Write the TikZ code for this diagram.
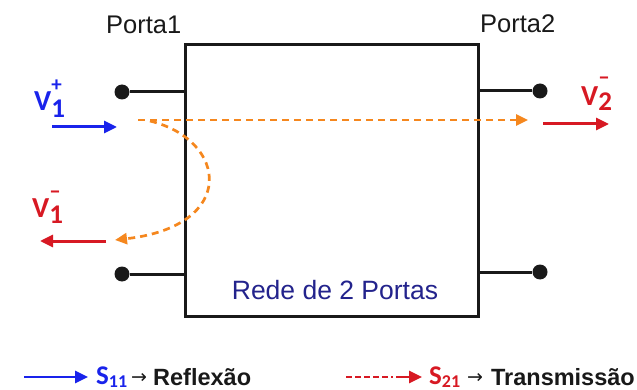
\documentclass[tikz,border=0pt]{standalone}
\usepackage{fontspec}
\setmainfont{Liberation Sans}
\newfontfamily\calfont{Carlito}
\newfontfamily\symfont{DejaVu Sans}
\usetikzlibrary{arrows.meta}
\definecolor{vblue}{RGB}{25,35,235}
\definecolor{vred}{RGB}{215,25,35}
\definecolor{vorange}{RGB}{245,135,30}
\definecolor{vnavy}{RGB}{35,35,140}
\definecolor{vblack}{RGB}{25,25,25}
\tikzset{
  wire/.style={line width=3pt, vblack},
  terminal/.style={circle, fill=vblack, minimum size=15pt, inner sep=0pt},
  portlabel/.style={anchor=base west, inner sep=0pt, text=vblack, font=\fontsize{25.5}{25.5}\selectfont},
  vlabel/.style={anchor=base west, inner sep=0pt, font=\calfont\bfseries\fontsize{29}{29}\selectfont},
  bigarrow/.style={line width=3pt, -{Triangle[length=13pt,width=12pt]}},
  orangearrow/.style={line width=2.7pt, vorange, dash pattern=on 7pt off 5pt, -{Triangle[length=12pt,width=11pt]}},
  legendtext/.style={anchor=base west, inner sep=0pt, font=\bfseries\fontsize{23.5}{23.5}\selectfont, text=vblack},
  legendsym/.style={anchor=base west, inner sep=0pt, font=\calfont\bfseries\fontsize{27}{27}\selectfont},
  legendarrow/.style={anchor=base west, inner sep=0pt, text=vblack, font=\symfont\fontsize{19}{19}\selectfont}
}
\begin{document}
\begin{tikzpicture}[x=1pt,y=-1pt]
\useasboundingbox (0,0) rectangle (637,390);
% box
\node[draw=vblack, line width=3pt, minimum width=293pt, minimum height=271pt, inner sep=0pt] (box) at (331.5,180.5) {};
\node[anchor=base, inner sep=0pt, text=vnavy, font=\fontsize{26.5}{26.5}\selectfont] (title) at (335,299) {Rede de 2 Portas};
% terminals
\node[terminal] (t1) at (122,92) {};
\node[terminal] (t2) at (122,274) {};
\node[terminal] (t3) at (540,91) {};
\node[terminal] (t4) at (540,272) {};
\draw[wire] (t1) -- (t1 -| box.west);
\draw[wire] (t2) -- (t2 -| box.west);
\draw[wire] (t3) -- (t3 -| box.east);
\draw[wire] (t4) -- (t4 -| box.east);
% port labels
\node[portlabel] (p1) at (106,34) {Porta1};
\node[portlabel] (p2) at (480,33) {Porta2};
% voltage labels
\node[vlabel, text=vblue] (v1p) at (34,111) {V\rlap{\raisebox{-7pt}{\fontsize{27}{27}\selectfont 1}}\raisebox{19pt}{\fontsize{21}{21}\selectfont +}};
\node[vlabel, text=vred] (v1m) at (32,218) {V\rlap{\raisebox{-6pt}{\fontsize{27}{27}\selectfont 1}}\raisebox{19pt}{\fontsize{23}{23}\selectfont –}};
\node[vlabel, text=vred] (v2m) at (581,106) {V\rlap{\raisebox{-5pt}{\fontsize{27}{27}\selectfont 2}}\raisebox{21pt}{\fontsize{23}{23}\selectfont –}};
% voltage arrows
\coordinate (a1s) at (52,127);
\coordinate (a1e) at (117,127);
\coordinate (a2s) at (106,241);
\coordinate (a2e) at (40,241);
\coordinate (a3s) at (543,124);
\coordinate (a3e) at (609,124);
\draw[bigarrow, vblue] (a1s) -- (a1e);
\draw[bigarrow, vred] (a2s) -- (a2e);
\draw[bigarrow, vred] (a3s) -- (a3e);
% orange wave paths
\coordinate (o1s) at (138,120);
\coordinate (o1e) at (528,120);
\draw[orangearrow] (o1s) -- (o1e);
\coordinate (o2s) at (150,121);
\coordinate (o2e) at (115,240);
\draw[orangearrow] (o2s) .. controls (228,140) and (238,226) .. (o2e);
% legend
\coordinate (l1s) at (24,377);
\coordinate (l1e) at (88,377);
\draw[bigarrow, vblue, line width=2.6pt] (l1s) -- (l1e);
\node[legendsym, text=vblue] (s11) at (96,384) {S\raisebox{-3pt}{\fontsize{18}{18}\selectfont 11}};
\node[legendarrow] (ar1) at (131,383) {→};
\node[legendtext] (refl) at (153,385) {Reflexão};
\coordinate (l2s) at (346,377);
\coordinate (l2e) at (422,377);
\draw[line width=2.8pt, vred, dash pattern=on 6pt off 3pt on 6pt off 3pt on 6pt off 3pt on 6pt off 3pt on 6pt off 3pt on 2pt off 3pt on 30pt off 3pt, -{Triangle[length=13pt,width=12pt]}] (l2s) -- (l2e);
\node[legendsym, text=vred] (s21) at (429,384) {S\raisebox{-3pt}{\fontsize{18}{18}\selectfont 21}};
\node[legendarrow] (ar2) at (467,383) {→};
\node[legendtext, anchor=base east] (trans) at (635,385) {Transmissão};
\end{tikzpicture}
\end{document}
